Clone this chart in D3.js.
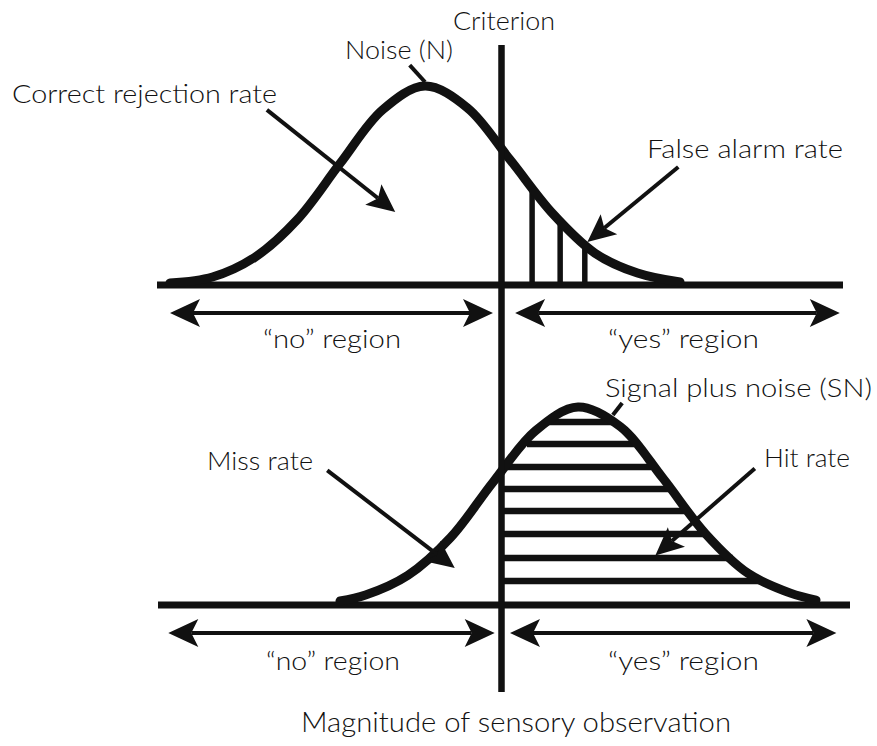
<!DOCTYPE html>
<html>
<head>
<meta charset="utf-8">
<script src="https://cdn.jsdelivr.net/npm/d3@7"></script>
<style>
  body { margin: 0; background: #fff; }
  text { font-family: Lato, "Open Sans", sans-serif; font-weight: 300; fill: #111; }
</style>
</head>
<body>
<div id="chart"></div>
<script>
// Values.
// x = magnitude of sensory observation (noise mean at 0), h = height relative to curve peak
const noiseCurve = [[-3.0, 0.01], [-2.5, 0.04], [-2.0, 0.14], [-1.5, 0.33], [-1.0, 0.61], [-0.5, 0.88],
    [0, 1], [0.5, 0.89], [1.0, 0.63], [1.5, 0.36], [2.0, 0.16], [2.5, 0.06], [3.0, 0.015]];
const signalCurve = [[-1.0, 0.02], [-0.7, 0.05], [-0.2, 0.15], [0.3, 0.34], [0.8, 0.62], [1.3, 0.88],
    [1.8, 1], [2.3, 0.9], [2.8, 0.64], [3.3, 0.36], [3.8, 0.16], [4.3, 0.06], [4.6, 0.025]];
const criterion = 0.9;
// false alarm hatching: [x, top]
const falseAlarmHatch = [[1.26, 0.48], [1.59, 0.32], [1.88, 0.2]];
// hit hatching: [h, xLeft, xRight]
const hitHatch = [[0.924, 1.42, 2.24], [0.813, 1.2, 2.46], [0.697, 0.95, 2.66], [0.586, 0.9, 2.88],
    [0.475, 0.9, 3.07], [0.359, 0.9, 3.32], [0.237, 0.9, 3.62], [0.121, 0.9, 3.98]];
const regionLabels = ["\u201Cno\u201D region", "\u201Cyes\u201D region"];
const title = "Magnitude of sensory observation";

const W = 877, H = 746;
const ink = "#111";

const svg = d3.select("#chart").append("svg")
    .attr("width", W).attr("height", H);

const x = d3.scaleLinear().domain([-3.2, 5.0]).range([153, 850]);
const yTop = d3.scaleLinear().domain([0, 1]).range([285, 86]);
const yBot = d3.scaleLinear().domain([0, 1]).range([605, 407]);

function arrowHead(tx, ty, fx, fy, len, half, notch) {
    const dx = tx - fx, dy = ty - fy, d = Math.hypot(dx, dy);
    const ux = dx / d, uy = dy / d, nx = -uy, ny = ux;
    const bx = tx - ux * len, by = ty - uy * len;
    const mx = tx - ux * (len - notch), my = ty - uy * (len - notch);
    return {
        path: "M" + tx + "," + ty + "L" + (bx + nx * half) + "," + (by + ny * half) +
              "L" + mx + "," + my + "L" + (bx - nx * half) + "," + (by - ny * half) + "Z",
        neck: [mx, my]
    };
}

// single-headed pointer
function pointer(g, from, to, y, head) {
    const fx = x(from[0]), fy = y(from[1]), tx = x(to[0]), ty = y(to[1]);
    let end = [tx, ty];
    if (head) {
        const a = arrowHead(tx, ty, fx, fy, 28, 13, 6);
        g.append("path").attr("d", a.path).attr("fill", ink);
        end = a.neck;
    }
    g.append("line")
        .attr("x1", fx).attr("y1", fy).attr("x2", end[0]).attr("y2", end[1])
        .attr("stroke", ink).attr("stroke-width", 4);
}

// double-headed region arrow
function regionArrow(g, x0, x1, yy) {
    const a = arrowHead(x(x0), yy, x(x1), yy, 30, 14, 7);
    const b = arrowHead(x(x1), yy, x(x0), yy, 30, 14, 7);
    g.append("line").attr("x1", a.neck[0]).attr("x2", b.neck[0]).attr("y1", yy).attr("y2", yy)
        .attr("stroke", ink).attr("stroke-width", 4);
    g.append("path").attr("d", a.path).attr("fill", ink);
    g.append("path").attr("d", b.path).attr("fill", ink);
}

function label(txt, x0, y0, w, size) {
    svg.append("text").attr("x", x0).attr("y", y0)
        .attr("font-size", size || 25)
        .attr("textLength", w).attr("lengthAdjust", "spacingAndGlyphs")
        .text(txt);
}

const curve = (y) => d3.line().x(d => x(d[0])).y(d => y(d[1])).curve(d3.curveCatmullRom);

// ---- top panel: noise ----
const gTop = svg.append("g");
gTop.selectAll(".fa").data(falseAlarmHatch).join("line")
    .attr("x1", d => x(d[0])).attr("x2", d => x(d[0]))
    .attr("y1", yTop(0)).attr("y2", d => yTop(d[1]))
    .attr("stroke", ink).attr("stroke-width", 5.5);
gTop.append("line").attr("x1", 157).attr("x2", 843).attr("y1", yTop(0)).attr("y2", yTop(0))
    .attr("stroke", ink).attr("stroke-width", 7);
gTop.append("path").datum(noiseCurve).attr("d", curve(yTop))
    .attr("fill", "none").attr("stroke", ink).attr("stroke-width", 9).attr("stroke-linecap", "round");
pointer(gTop, [-1.86, 0.88], [-0.35, 0.367], yTop, true);
pointer(gTop, [2.98, 0.593], [1.91, 0.216], yTop, true);
pointer(gTop, [-0.18, 1.105], [0, 1.02], yTop, false);
regionArrow(gTop, -3.0, 0.8, 313);
regionArrow(gTop, 1.06, 4.88, 313);

// ---- bottom panel: signal plus noise ----
const gBot = svg.append("g");
gBot.selectAll(".hit").data(hitHatch).join("line")
    .attr("x1", d => x(d[1])).attr("x2", d => x(d[2]))
    .attr("y1", d => yBot(d[0])).attr("y2", d => yBot(d[0]))
    .attr("stroke", ink).attr("stroke-width", 6.5);
gBot.append("line").attr("x1", 158).attr("x2", 850).attr("y1", yBot(0)).attr("y2", yBot(0))
    .attr("stroke", ink).attr("stroke-width", 7);
gBot.append("path").datum(signalCurve).attr("d", curve(yBot))
    .attr("fill", "none").attr("stroke", ink).attr("stroke-width", 9).attr("stroke-linecap", "round");
pointer(gBot, [-1.15, 0.68], [0.35, 0.187], yBot, true);
pointer(gBot, [3.88, 0.69], [2.71, 0.25], yBot, true);
pointer(gBot, [2.32, 1.02], [2.21, 0.96], yBot, false);
regionArrow(gBot, -3.02, 0.82, 633);
regionArrow(gBot, 1.0, 4.84, 633);

// criterion
svg.append("line").attr("x1", x(criterion)).attr("x2", x(criterion))
    .attr("y1", 45).attr("y2", 692)
    .attr("stroke", ink).attr("stroke-width", 6.5);

// ---- text ----
label("Criterion", 453, 30, 102);
label("Noise (N)", 345, 59, 108);
label("Correct rejection rate", 12, 103, 265);
label("False alarm rate", 647, 158, 196);
label(regionLabels[0], 263, 348, 138);
label(regionLabels[1], 608, 348, 151);
label("Signal plus noise (SN)", 605, 397, 267);
label("Miss rate", 207, 470, 106);
label("Hit rate", 764, 467, 86);
label(regionLabels[0], 266, 670, 134);
label(regionLabels[1], 608, 670, 151);
label(title, 301, 732, 430, 27);
</script>
</body>
</html>
